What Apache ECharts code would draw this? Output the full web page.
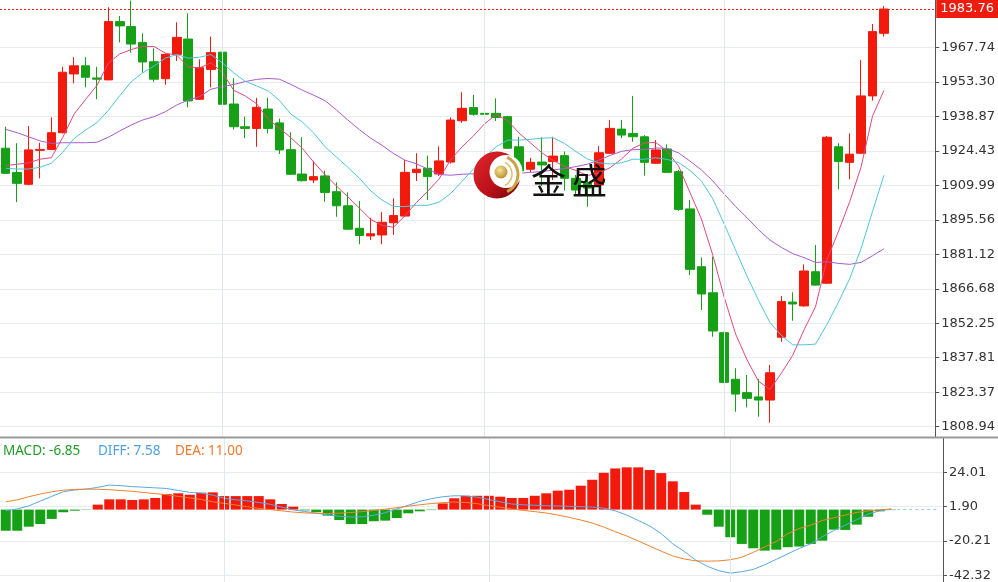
<!DOCTYPE html>
<html><head><meta charset="utf-8">
<script src="https://cdn.jsdelivr.net/npm/echarts@6/dist/echarts.min.js"></script>
<style>html,body{margin:0;padding:0;background:#fff}#c{width:998px;height:582px}</style>
</head><body><div id="c"></div>
<script>
// [open, close, low, high]
const candles = [
[1925.5,1915.0,1914.7,1934.5],[1915.3,1910.8,1902.9,1927.6],[1910.4,1924.8,1910.0,1934.8],[1924.6,1925.0,1912.9,1927.8],
[1925.0,1932.0,1924.8,1938.4],[1932.0,1957.3,1931.7,1959.6],[1956.6,1960.0,1952.7,1963.6],[1960.0,1955.2,1951.0,1963.6],
[1954.9,1954.4,1946.0,1959.6],[1954.1,1978.5,1954.0,1984.5],[1978.5,1976.7,1969.8,1980.8],[1976.4,1969.1,1965.5,1987.3],
[1969.8,1961.6,1957.1,1973.6],[1961.7,1954.4,1953.3,1967.3],[1954.6,1964.8,1952.1,1965.2],[1964.8,1971.9,1962.0,1978.2],
[1971.2,1945.3,1942.6,1982.0],[1946.0,1959.2,1945.7,1962.7],[1958.5,1965.5,1951.0,1972.2],[1965.7,1943.9,1941.2,1965.9],
[1944.0,1934.5,1933.4,1954.8],[1934.5,1933.8,1929.7,1938.7],[1933.8,1942.6,1926.1,1946.6],[1941.9,1933.8,1931.7,1946.6],
[1936.1,1924.8,1923.1,1937.9],[1924.9,1914.6,1914.3,1932.2],[1914.7,1911.9,1911.6,1930.1],[1912.2,1913.6,1910.9,1920.2],
[1913.9,1907.0,1903.1,1916.2],[1907.3,1901.4,1896.8,1911.2],[1901.4,1891.6,1891.3,1907.0],[1892.0,1889.0,1885.3,1903.4],
[1888.8,1889.7,1887.1,1896.4],[1889.2,1894.5,1885.3,1898.7],[1894.3,1897.3,1889.2,1904.5],[1897.1,1915.4,1896.8,1920.6],
[1915.3,1916.7,1911.8,1923.4],[1917.1,1913.6,1903.8,1922.4],[1914.7,1920.2,1913.9,1926.3],[1919.7,1937.3,1919.1,1938.4],
[1937.0,1942.2,1936.1,1948.9],[1942.5,1939.7,1939.1,1947.8],[1940.1,1939.7,1934.8,1952.9],[1940.1,1938.4,1936.9,1946.4],
[1938.7,1925.5,1925.2,1939.1],[1926.1,1916.0,1915.7,1930.3],[1916.7,1919.6,1915.5,1921.4],[1919.7,1918.5,1909.7,1930.1],
[1919.9,1922.2,1912.2,1930.3],[1922.4,1912.9,1907.8,1924.1],[1912.9,1908.0,1905.9,1914.3],[1910.9,1908.8,1901.0,1914.6],
[1910.1,1923.6,1909.7,1926.4],[1923.4,1933.8,1923.1,1937.3],[1933.5,1931.0,1929.7,1937.3],[1931.7,1930.3,1928.2,1947.4],
[1930.3,1919.6,1914.0,1931.0],[1919.2,1924.8,1918.9,1928.9],[1925.2,1915.4,1915.3,1927.1],[1915.7,1899.9,1899.3,1916.4],
[1900.1,1874.8,1872.4,1903.8],[1875.9,1864.5,1857.8,1879.8],[1865.0,1849.0,1846.6,1880.1],[1848.3,1827.5,1827.3,1848.7],
[1828.8,1822.6,1815.2,1833.4],[1823.2,1820.8,1817.0,1830.6],[1821.4,1820.1,1813.1,1828.9],[1820.1,1831.5,1810.6,1834.8],
[1846.4,1861.3,1844.5,1863.6],[1861.1,1860.3,1853.3,1865.2],[1859.5,1874.1,1859.2,1876.9],[1873.8,1868.2,1868.0,1885.0],
[1869.0,1930.1,1868.7,1930.6],[1926.1,1919.9,1908.3,1927.6],[1919.6,1923.0,1912.5,1931.7],[1923.4,1947.4,1923.1,1962.4],
[1947.4,1974.3,1945.4,1977.5],[1973.6,1983.76,1972.2,1985.0]
];
const ma5 = [1918.2,1918.8,1919.4,1920.9,1921.5,1930.0,1939.8,1945.9,1951.8,1961.1,1965.0,1966.8,1968.1,1968.1,1965.3,1964.4,1959.6,1959.1,1961.3,1957.2,1949.7,1947.4,1944.1,1937.7,1933.9,1929.9,1925.5,1919.7,1914.4,1909.7,1905.1,1900.5,1895.7,1893.2,1892.4,1897.2,1902.7,1907.5,1912.6,1920.6,1926.0,1930.6,1935.8,1939.5,1937.1,1931.9,1927.8,1923.6,1920.4,1917.8,1916.2,1914.1,1915.1,1917.4,1921.0,1925.5,1927.7,1927.9,1924.2,1918.0,1906.9,1895.9,1880.7,1863.1,1847.7,1836.9,1828.0,1824.5,1831.3,1838.8,1849.5,1859.1,1878.8,1890.5,1903.1,1917.7,1938.9,1949.7];
const ma10 = [1917.1,1916.8,1916.8,1917.5,1919.2,1923.8,1929.6,1933.1,1936.2,1941.3,1947.5,1953.3,1957.0,1959.9,1963.2,1964.7,1963.2,1963.6,1964.7,1961.2,1957.0,1953.5,1951.6,1949.5,1945.5,1939.8,1936.5,1931.9,1926.1,1921.8,1917.5,1913.0,1907.7,1903.8,1901.1,1901.1,1901.6,1901.6,1902.9,1906.5,1911.6,1916.7,1921.7,1926.1,1928.9,1928.9,1929.2,1929.7,1929.9,1927.5,1924.1,1921.0,1919.4,1918.9,1919.4,1920.9,1920.9,1921.5,1920.8,1919.5,1916.2,1911.8,1904.3,1893.7,1882.8,1871.9,1861.9,1852.6,1847.2,1843.2,1843.2,1843.5,1851.7,1860.9,1870.9,1883.6,1899.0,1914.2];
const ma20 = [1933.4,1932.0,1930.3,1928.6,1927.5,1927.8,1927.8,1927.8,1928.0,1930.1,1932.7,1935.2,1937.3,1938.7,1940.8,1943.6,1945.7,1947.1,1950.2,1951.3,1952.2,1953.4,1954.3,1954.7,1954.4,1952.2,1949.8,1947.7,1945.4,1941.5,1937.3,1933.3,1929.7,1926.7,1923.3,1920.5,1919.0,1916.8,1914.5,1914.2,1914.6,1914.8,1914.7,1914.9,1915.0,1915.0,1915.4,1915.7,1916.4,1917.0,1917.8,1918.8,1920.5,1922.5,1924.2,1924.9,1925.0,1925.6,1925.4,1923.5,1920.1,1916.4,1911.8,1906.3,1901.1,1896.4,1891.4,1887.1,1884.0,1881.4,1879.7,1877.7,1878.0,1877.3,1876.9,1877.7,1880.5,1883.4];
const macdBars = [-13.6,-13.6,-11.0,-9.3,-6.0,-1.7,-0.7,-0.2,3.2,6.6,6.6,6.2,6.6,7.5,10.0,10.5,9.6,10.9,11.1,8.7,8.7,8.7,8.7,6.6,3.6,1.9,-0.5,-1.7,-3.9,-6.7,-9.3,-9.3,-7.5,-7.1,-5.4,-2.4,-1.1,-0.3,4.0,7.3,8.9,8.9,8.9,8.3,7.5,7.5,8.9,10.5,12.2,12.8,15.4,19.2,23.7,26.5,27.2,27.2,25.5,23.5,18.2,11.3,3.2,-3.3,-11.0,-17.8,-22.1,-24.9,-26.4,-25.8,-24.2,-23.8,-22.1,-20.0,-12.9,-13.1,-9.7,-4.6,-1.1,-0.3];
const diffLine = [-0.6,0.4,2.4,5.5,8.5,11.5,12.6,13.2,14.3,15.8,15.4,14.8,14.4,14.0,13.6,12.3,11.1,10.6,9.3,7.3,6.3,5.6,4.6,3.4,1.6,-0.2,-1.2,-2.3,-3.4,-4.3,-4.8,-4.6,-3.6,-2.0,0.4,2.8,5.3,7.0,8.3,8.9,8.8,8.0,6.5,5.0,3.6,3.1,2.8,2.5,2.3,2.1,1.9,1.6,1.0,-0.8,-3.5,-7.0,-10.5,-15.5,-22.0,-27.0,-32.5,-36.5,-39.3,-40.9,-40.0,-38.5,-35.5,-32.0,-28.5,-25.0,-22.0,-17.5,-13.5,-10.0,-6.5,-2.8,-0.8,0.4];
const deaLine = [5.0,6.3,8.3,10.0,11.5,12.5,13.0,13.2,13.1,12.8,12.3,11.8,11.0,10.3,9.6,8.5,7.5,6.5,5.0,4.0,3.0,1.8,0.8,0.0,-0.8,-1.6,-2.1,-2.4,-2.5,-2.3,-1.9,-1.3,-0.5,0.3,1.2,2.2,3.1,3.9,4.5,4.9,4.6,3.8,2.6,1.5,0.4,-0.5,-1.3,-2.2,-3.5,-5.0,-6.7,-8.6,-11.2,-14.2,-17.0,-20.2,-23.5,-26.8,-29.8,-31.8,-33.0,-33.2,-33.0,-32.3,-30.7,-27.5,-24.0,-20.5,-15.5,-12.2,-10.0,-7.0,-5.3,-3.5,-1.8,-0.8,-0.2,0.4];
const priceTicks = [1808.94,1823.37,1837.81,1852.25,1866.68,1881.12,1895.56,1909.99,1924.43,1938.87,1953.30,1967.74];
const macdTicks = [-42.32,-20.21,1.90,24.01];
const lastPrice = 1983.76;
const monthStarts = [19, 42, 63];
const slotCount = 82;
const categories = Array.from({length: slotCount}, (_, i) => String(i + 1));
const legendTexts = ['MACD: -6.85', 'DIFF: 7.58', 'DEA: 11.00'];

const RED = '#f21a0c', GREEN = '#15a015', PRICE_RED = '#ee1b0e';
const GRIDC = '#e8ecf0', VLINE = '#e2e7ee';
const chart = echarts.init(document.getElementById('c'), null, {renderer: 'canvas'});
const vLineMark = {silent: true, symbol: 'none', animation: false,
  lineStyle: {color: VLINE, type: 'solid', width: 1}, label: {show: false},
  data: monthStarts.map(i => ({xAxis: i}))};
const axisFont = {color: '#333', fontFamily: 'DejaVu Sans', fontSize: 13, margin: 6};

chart.setOption({
  animation: false,
  grid: [
    {left: 0, right: 55, top: 0, height: 437},
    {left: 0, right: 55, top: 438, height: 144}
  ],
  xAxis: [
    {type: 'category', data: categories, gridIndex: 0, boundaryGap: true,
     axisLine: {show: false}, axisTick: {show: false}, axisLabel: {show: false}, splitLine: {show: false}},
    {type: 'category', data: categories, gridIndex: 1, boundaryGap: true,
     axisLine: {show: false}, axisTick: {show: false}, axisLabel: {show: false}, splitLine: {show: false}}
  ],
  yAxis: [
    {type: 'value', gridIndex: 0, position: 'right', min: 1804.63, max: 1987.54,
     axisLine: {show: true, lineStyle: {color: '#555'}},
     axisTick: {show: true, length: 4, customValues: priceTicks, lineStyle: {color: '#555'}},
     axisLabel: Object.assign({customValues: priceTicks, formatter: v => Number(v).toFixed(2)}, axisFont),
     splitLine: {show: true, lineStyle: {color: GRIDC}}},
    {type: 'value', gridIndex: 1, position: 'right', min: -46.6, max: 46.09,
     axisLine: {show: true, lineStyle: {color: '#555'}},
     axisTick: {show: true, length: 4, customValues: macdTicks, lineStyle: {color: '#555'}},
     axisLabel: Object.assign({customValues: macdTicks, formatter: v => Number(v).toFixed(2)}, axisFont),
     splitLine: {show: true, lineStyle: {color: GRIDC}}}
  ],
  series: [
    {type: 'line', name: 'MA20', data: ma20, xAxisIndex: 0, yAxisIndex: 0, symbol: 'none',
     lineStyle: {color: '#a95bc9', width: 1}, markLine: vLineMark},
    {type: 'candlestick', xAxisIndex: 0, yAxisIndex: 0, data: candles, barWidth: 9,
     itemStyle: {color: RED, color0: GREEN, borderColor: RED, borderColor0: GREEN, borderWidth: 1}},
    {type: 'line', name: 'MA5', data: ma5, xAxisIndex: 0, yAxisIndex: 0, symbol: 'none',
     lineStyle: {color: '#e0487e', width: 1},
     markLine: {silent: true, symbol: 'none', animation: false,
       itemStyle: {color: PRICE_RED},
       lineStyle: {color: PRICE_RED, type: [2, 2], width: 1, opacity: 1},
       label: {show: true, position: 'end', distance: 1, formatter: () => lastPrice.toFixed(2),
               color: '#fff', backgroundColor: PRICE_RED, padding: [3, 4, 2, 4],
               fontFamily: 'DejaVu Sans', fontSize: 13},
       data: [{yAxis: lastPrice}]}},
    {type: 'line', name: 'MA10', data: ma10, xAxisIndex: 0, yAxisIndex: 0, symbol: 'none',
     lineStyle: {color: '#4fc6d8', width: 1}},
    {type: 'bar', data: macdBars, xAxisIndex: 1, yAxisIndex: 1, barWidth: 10,
     itemStyle: {color: p => p.value >= 0 ? RED : GREEN},
     markLine: vLineMark},
    {type: 'line', data: diffLine, xAxisIndex: 1, yAxisIndex: 1, symbol: 'none',
     lineStyle: {color: '#5aa8e6', width: 1},
     markLine: {silent: true, symbol: 'none', animation: false,
       data: [[{coord: [diffLine.length - 1, diffLine[diffLine.length - 1]]}, {coord: [slotCount - 1, diffLine[diffLine.length - 1]]}]],
       lineStyle: {color: '#9ccbea', type: [3, 3], width: 1}, label: {show: false}}},
    {type: 'line', data: deaLine, xAxisIndex: 1, yAxisIndex: 1, symbol: 'none',
     lineStyle: {color: '#f0822d', width: 1}}
  ],
  graphic: [
    {type: 'line', z: 100, shape: {x1: 0, y1: 437.5, x2: 998, y2: 437.5}, style: {stroke: '#9a9a9a', lineWidth: 2}},
    {type: 'text', z: 100, x: 3, y: 451, style: {text: legendTexts[0], fill: '#22992a', font: '13.5px "Noto Sans"', verticalAlign: 'middle'}},
    {type: 'text', z: 100, x: 98, y: 451, style: {text: legendTexts[1], fill: '#4e9fe2', font: '13.5px "Noto Sans"', verticalAlign: 'middle'}},
    {type: 'text', z: 100, x: 175, y: 451, style: {text: legendTexts[2], fill: '#f07a2b', font: '13.5px "Noto Sans"', verticalAlign: 'middle'}},
    {type: 'circle', z: 100, shape: {cx: 497, cy: 175, r: 23.5},
     style: {fill: new echarts.graphic.LinearGradient(0, 0, 1, 1, [{offset: 0, color: '#e3262b'}, {offset: 0.6, color: '#b8101a'}, {offset: 1, color: '#6e070c'}])}},
    {type: 'circle', z: 101, shape: {cx: 506, cy: 171.5, r: 16.5}, style: {fill: '#fff'}},
    {type: 'arc', z: 102, shape: {cx: 499, cy: 174.5, r: 19, startAngle: -1.13, endAngle: 1.13, clockwise: true}, style: {fill: 'none', stroke: '#c9a347', lineWidth: 3}},
    {type: 'arc', z: 102, shape: {cx: 499, cy: 174, r: 13, startAngle: -1.1, endAngle: 1.1, clockwise: true}, style: {fill: 'none', stroke: '#dcbf6a', lineWidth: 1.5}},
    {type: 'circle', z: 102, shape: {cx: 501, cy: 172, r: 6.5},
     style: {fill: new echarts.graphic.RadialGradient(0.4, 0.35, 0.7, [{offset: 0, color: '#f6e59a'}, {offset: 1, color: '#b48a25'}])}},
    {type: 'text', z: 102, x: 531, y: 181, style: {text: '金', fill: '#111', font: '35px "Noto Sans CJK SC"', verticalAlign: 'middle'}},
    {type: 'text', z: 102, x: 572, y: 181, style: {text: '盛', fill: '#111', font: '35px "Noto Sans CJK SC"', verticalAlign: 'middle'}}
  ]
});
</script>
</body></html>
